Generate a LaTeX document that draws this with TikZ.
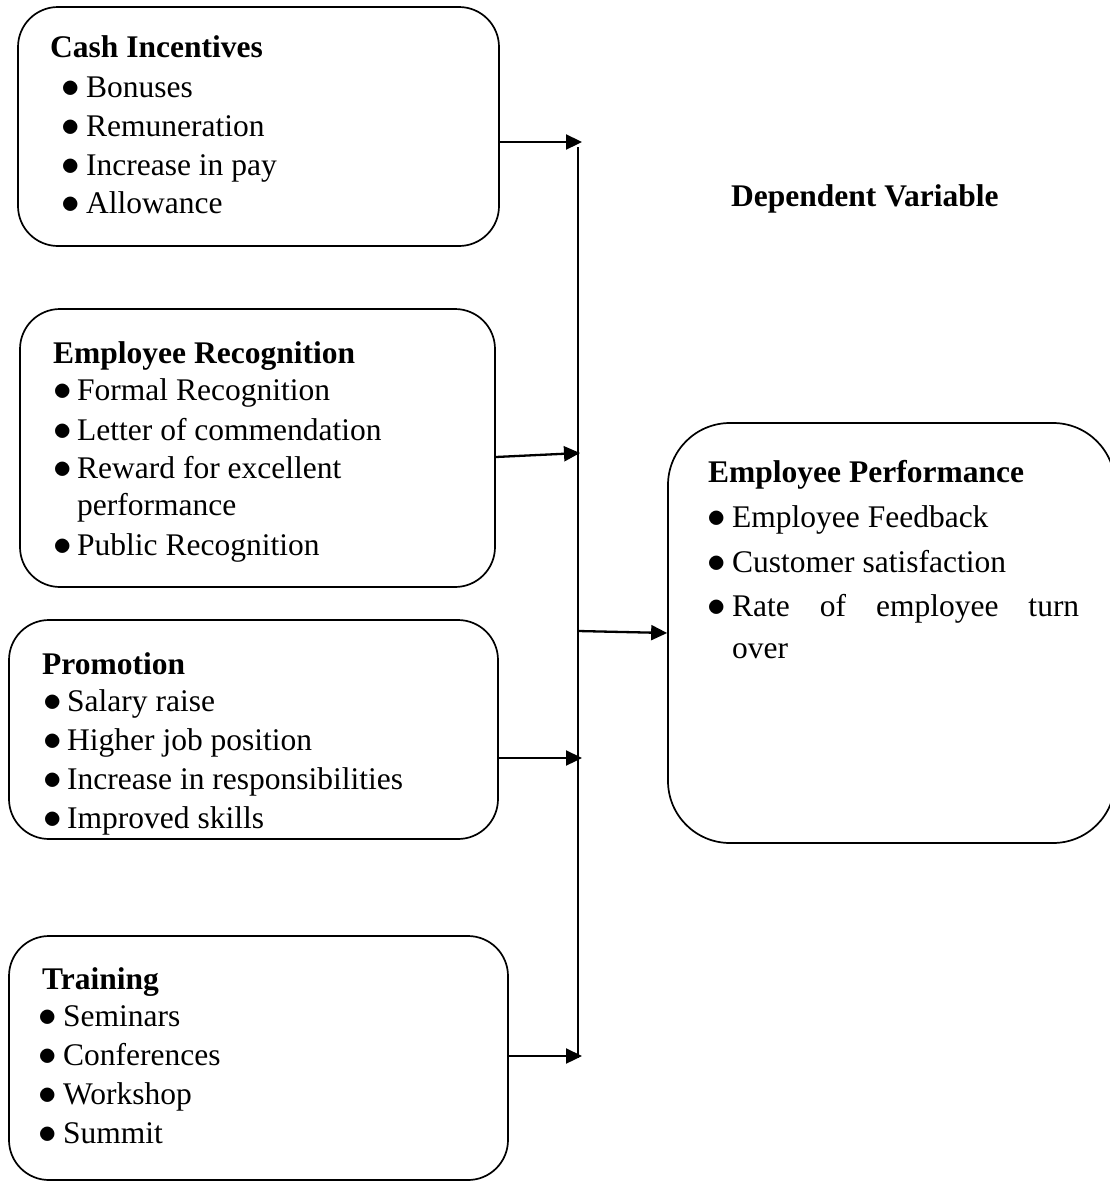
\documentclass[tikz,border=0pt]{standalone}
\usepackage{fix-cm}
\usepackage{fontspec}
\setmainfont{Liberation Serif}
\usetikzlibrary{arrows.meta}
\tikzset{
  box/.style={draw, line width=1.7pt, rounded corners=40pt, inner sep=0pt},
  bigbox/.style={draw, line width=1.7pt, rounded corners=62pt, inner sep=0pt},
  txt/.style={anchor=base west, inner sep=0pt, font=\fontsize{31.5}{39}\selectfont},
  hd/.style={txt, font=\fontsize{31.5}{39}\selectfont\bfseries},
  conn/.style={line width=2.3pt},
  arr/.style={conn, -{Triangle[length=16pt,width=15pt]}}
}
\newcommand{\bul}[1]{\makebox[#1][l]{\fontsize{37}{39}\selectfont$\bullet$}}
\begin{document}
\begin{tikzpicture}[x=1pt,y=1pt]
\useasboundingbox (0,0) rectangle (1110,-1181);
\clip (0,0) rectangle (1110,-1181);
% boxes
\node[box, minimum width=481pt, minimum height=239pt] (b1) at (258.5,-126.5) {};
\node[box, minimum width=475pt, minimum height=278pt] (b2) at (257.5,-448) {};
\node[box, minimum width=489pt, minimum height=219pt] (b3) at (253.5,-729.5) {};
\node[box, minimum width=499pt, minimum height=244pt] (b4) at (258.5,-1058) {};
\node[bigbox, minimum width=447pt, minimum height=420pt] (b5) at (891.5,-633) {};
% box 1
\node[hd] (t1h) at (50,-57) {Cash Incentives};
\node[txt] (t1a) at (61,-97) {\bul{25pt}Bonuses};
\node[txt] (t1b) at (61,-136) {\bul{25pt}Remuneration};
\node[txt] (t1c) at (61,-175) {\bul{25pt}Increase in pay};
\node[txt] (t1d) at (61,-213) {\bul{25pt}Allowance};
% box 2
\node[hd] (t2h) at (53,-363) {Employee Recognition};
\node[txt] (t2a) at (53,-400) {\bul{24pt}Formal Recognition};
\node[txt] (t2b) at (53,-440) {\bul{24pt}Letter of commendation};
\node[txt] (t2c) at (53,-478) {\bul{24pt}Reward for excellent};
\node[txt] (t2d) at (77,-515) {performance};
\node[txt] (t2e) at (53,-555) {\bul{24pt}Public Recognition};
% box 3
\node[hd] (t3h) at (42,-674) {Promotion};
\node[txt] (t3a) at (43,-711) {\bul{24pt}Salary raise};
\node[txt] (t3b) at (43,-750) {\bul{24pt}Higher job position};
\node[txt] (t3c) at (43,-789) {\bul{24pt}Increase in responsibilities};
\node[txt] (t3d) at (43,-828) {\bul{24pt}Improved skills};
% box 4
\node[hd] (t4h) at (42,-989) {Training};
\node[txt] (t4a) at (38,-1026) {\bul{25pt}Seminars};
\node[txt] (t4b) at (38,-1065) {\bul{25pt}Conferences};
\node[txt] (t4c) at (38,-1104) {\bul{25pt}Workshop};
\node[txt] (t4d) at (38,-1143) {\bul{25pt}Summit};
% box 5
\node[hd] (t5h) at (708,-482) {Employee Performance};
\node[txt] (t5a) at (707,-527) {\bul{25pt}Employee Feedback};
\node[txt] (t5b) at (707,-572) {\bul{25pt}Customer satisfaction};
\node[txt] (t5c) at (707,-616) {\bul{25pt}\makebox[347pt][s]{Rate of employee turn}};
\node[txt] (t5d) at (732,-658) {over};
% label
\node[hd] (dv) at (731,-206) {Dependent Variable};
% connectors
\coordinate (bt) at (578,-147);
\coordinate (bb) at (578,-1058);
\coordinate (e1) at (582,-142);
\coordinate (e2) at (580,-453);
\coordinate (e4) at (582,-758);
\coordinate (e5) at (582,-1056);
\coordinate (s3) at (578,-631);
\draw[conn] (bt) -- (bb);
\draw[arr] (b1.east |- e1) -- (e1);
\draw[arr] (b2.east |- 0,-457) -- (e2);
\draw[arr] (b3.east |- e4) -- (e4);
\draw[arr] (b4.east |- e5) -- (e5);
\draw[arr] (s3) -- (b5.west |- 0,-633);
\end{tikzpicture}
\end{document}
